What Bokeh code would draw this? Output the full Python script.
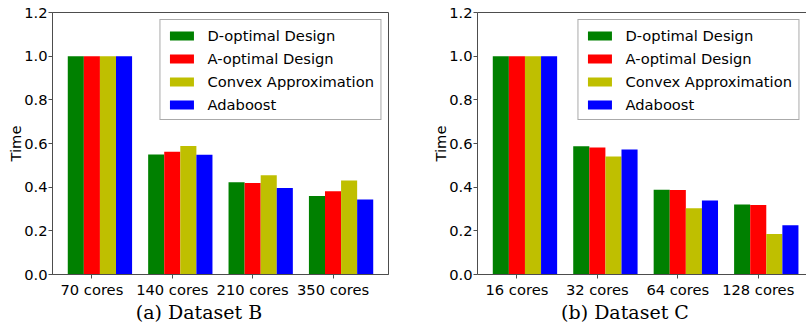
from bokeh.plotting import figure
from bokeh.layouts import row, column
from bokeh.models import (ColumnDataSource, FixedTicker, Range1d, Div,
                          LinearAxis, NumeralTickFormatter)
from bokeh.transform import dodge
from bokeh.embed import file_html
from bokeh.resources import INLINE

series_names = ["D-optimal Design", "A-optimal Design", "Convex Approximation", "Adaboost"]
series_colors = ["#008000", "#ff0000", "#bfbf00", "#0000ff"]

b_categories = ["70 cores", "140 cores", "210 cores", "350 cores"]
b_dopt = [1.0, 0.550, 0.422, 0.359]
b_aopt = [1.0, 0.562, 0.419, 0.381]
b_convex = [1.0, 0.588, 0.455, 0.431]
b_ada = [1.0, 0.549, 0.396, 0.344]

c_categories = ["16 cores", "32 cores", "64 cores", "128 cores"]
c_dopt = [1.0, 0.587, 0.388, 0.321]
c_aopt = [1.0, 0.582, 0.387, 0.318]
c_convex = [1.0, 0.541, 0.303, 0.185]
c_ada = [1.0, 0.573, 0.339, 0.226]

y_ticks = [0.0, 0.2, 0.4, 0.6, 0.8, 1.0, 1.2]

FONT = "DejaVu Sans"
FS = "14.7px"
SPINE = "#4d4d4d"
BAR_W = 0.2
OFFSETS = [-0.2, 0.0, 0.2, 0.4]
FIG_H = 300
CAP_H = 24
TOP_B = 12
FRAME_H = 262


def make_panel(categories, series, width, x_start, x_end,
               border_left, border_right, right_spine):
    idx = list(range(len(categories)))
    data = {"x": idx}
    for k, vals in enumerate(series):
        data["s%d" % k] = vals
    src = ColumnDataSource(data)

    p = figure(width=width, height=FIG_H, output_backend="svg", toolbar_location=None,
               title=None,
               x_range=Range1d(x_start, x_end), y_range=Range1d(0, 1.2),
               min_border_left=border_left, min_border_right=border_right,
               min_border_top=TOP_B, min_border_bottom=FIG_H - TOP_B - FRAME_H)
    p.grid.visible = False
    p.background_fill_color = "white"
    p.border_fill_color = "white"
    if right_spine:
        p.outline_line_color = SPINE
        p.outline_line_width = 1
    else:
        p.outline_line_color = None
        top = LinearAxis(ticker=FixedTicker(ticks=[]), axis_line_color=SPINE,
                         axis_line_width=1, major_tick_line_color=None,
                         minor_tick_line_color=None, major_label_text_font_size="0px",
                         major_label_standoff=0, major_tick_out=0, major_tick_in=0)
        p.add_layout(top, "above")

    for k in range(len(series)):
        p.vbar(x=dodge("x", OFFSETS[k]), top="s%d" % k, width=BAR_W, source=src,
               fill_color=series_colors[k], line_color=None,
               legend_label=series_names[k])

    xa = p.below[0]
    xa.ticker = FixedTicker(ticks=idx)
    xa.major_label_overrides = {i: categories[i] for i in idx}
    xa.minor_tick_line_color = None
    xa.major_tick_out = 4
    xa.major_tick_in = 0
    xa.major_label_standoff = 2
    xa.axis_line_color = SPINE
    xa.major_tick_line_color = SPINE
    xa.major_label_text_font = FONT
    xa.major_label_text_font_size = FS
    xa.major_label_text_color = "black"

    ya = p.left[0]
    ya.ticker = FixedTicker(ticks=y_ticks)
    ya.formatter = NumeralTickFormatter(format="0.0")
    ya.minor_tick_line_color = None
    ya.major_tick_out = 4
    ya.major_tick_in = 0
    ya.major_label_standoff = 1
    ya.axis_line_color = SPINE
    ya.major_tick_line_color = SPINE
    ya.major_label_text_font = FONT
    ya.major_label_text_font_size = FS
    ya.major_label_text_color = "black"
    ya.axis_label = "Time"
    ya.axis_label_text_font = FONT
    ya.axis_label_text_font_size = FS
    ya.axis_label_text_font_style = "normal"
    ya.axis_label_text_color = "black"
    ya.axis_label_standoff = -3

    lg = p.legend[0]
    lg.location = "top_right"
    lg.margin = 7
    lg.padding = 6
    lg.spacing = 5
    lg.glyph_width = 30
    lg.glyph_height = 11
    lg.label_height = 18
    lg.label_standoff = 11
    lg.label_text_font = FONT
    lg.label_text_font_size = FS
    lg.label_text_color = "black"
    lg.border_line_color = "#555555"
    lg.border_line_width = 1
    lg.background_fill_alpha = 1.0
    return p


def make_caption(text, width, pad_left, pad_right):
    html = ('<div style="width:%dpx; box-sizing:border-box; padding-left:%dpx; '
            'padding-right:%dpx; text-align:center; font-family:\'DejaVu Serif\'; '
            'font-size:19px; line-height:%dpx; color:black; white-space:nowrap;">%s</div>'
            % (width, pad_left, pad_right, CAP_H, text))
    return Div(text=html, width=width, height=CAP_H, margin=0)


LW, RW = 400, 406
left = make_panel(b_categories, [b_dopt, b_aopt, b_convex, b_ada],
                  LW, -0.49, 3.69, 52, 12, True)
right = make_panel(c_categories, [c_dopt, c_aopt, c_convex, c_ada],
                   RW, -0.49, 3.6, 77, 0, False)

left_col = column(left, make_caption("(a) Dataset B", LW, 0, 2),
                  width=LW, height=FIG_H + CAP_H, sizing_mode="fixed", spacing=0)
right_col = column(right, make_caption("(b) Dataset C", RW, 44, 0),
                   width=RW, height=FIG_H + CAP_H, sizing_mode="fixed", spacing=0)
layout = row(left_col, right_col, width=LW + RW, height=FIG_H + CAP_H,
             sizing_mode="fixed", spacing=0)
open("out.html", "w").write(file_html(layout, INLINE))
